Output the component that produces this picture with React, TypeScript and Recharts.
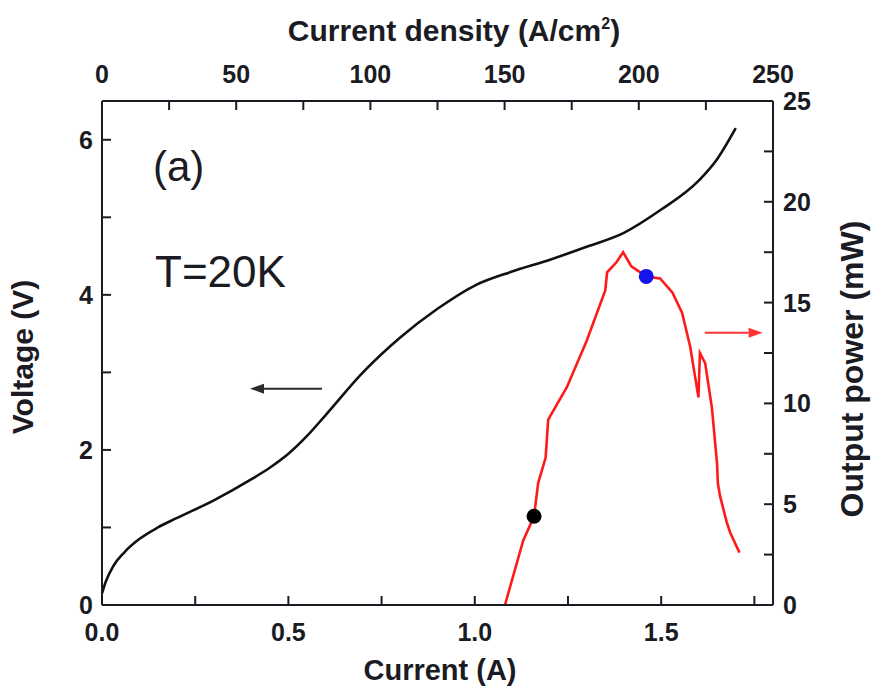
import { ComposedChart, Line, Scatter, XAxis, YAxis, ReferenceLine } from "recharts";

// V-I curve (left axis)
const currentV = [0, 0.01, 0.03, 0.06, 0.1, 0.15, 0.2, 0.3, 0.4, 0.45, 0.5, 0.55, 0.6, 0.7, 0.8, 0.9, 1.0, 1.1, 1.2, 1.3, 1.4, 1.5, 1.6, 1.65, 1.7];
const voltage = [0.15, 0.3, 0.5, 0.68, 0.85, 1.0, 1.12, 1.35, 1.62, 1.77, 1.95, 2.18, 2.45, 3.0, 3.45, 3.82, 4.12, 4.3, 4.45, 4.62, 4.8, 5.1, 5.47, 5.75, 6.15];

// L-I curve (right axis)
const currentP = [1.081, 1.13, 1.159, 1.17, 1.19, 1.197, 1.247, 1.3, 1.35, 1.355, 1.38, 1.398, 1.42, 1.46, 1.497, 1.53, 1.556, 1.578, 1.6, 1.604, 1.618, 1.636, 1.65, 1.652, 1.658, 1.676, 1.685, 1.71];
const power = [0, 3.2, 4.4, 6.05, 7.3, 9.2, 10.8, 13.1, 15.6, 16.5, 17.0, 17.5, 16.8, 16.3, 16.2, 15.5, 14.5, 12.8, 10.3, 12.5, 12.0, 9.8, 7.0, 6.05, 5.4, 4.1, 3.6, 2.6];

// highlighted points on the L-I curve
const blackDot = [{ I: 1.159, P: 4.4 }];
const blueDot = [{ I: 1.46, P: 16.3 }];

const X_MAX = 1.8; // A, equals 250 A/cm2 on the top axis
const currentTicks = [0, 0.25, 0.5, 0.75, 1.0, 1.25, 1.5, 1.75];
const currentLabels = [0, 0.5, 1.0, 1.5];
const densityTicks = [0, 25, 50, 75, 100, 125, 150, 175, 200, 225, 250];
const densityLabels = [0, 50, 100, 150, 200, 250];
const voltageTicks = [0, 1, 2, 3, 4, 5, 6];
const voltageLabels = [0, 2, 4, 6];
const powerTicks = [0, 2.5, 5, 7.5, 10, 12.5, 15, 17.5, 20, 22.5, 25];
const powerLabels = [0, 5, 10, 15, 20, 25];

const vData = currentV.map((I, i) => ({ I, V: voltage[i] }));
const pData = currentP.map((I, i) => ({ I, P: power[i] }));
const toCurrent = (j: number) => (j * X_MAX) / 250;

const FONT = '"Liberation Sans", Arial, Helvetica, sans-serif';
const INK = "#1b1b24";
const TICK = 9;
const has = (arr: number[], v: number) => arr.some((a) => Math.abs(a - v) < 1e-6);
const tickText = { fontFamily: FONT, fontWeight: 700, fontSize: 25, fill: INK };

const BottomTick = ({ x, y, payload }: any) => (
  <g>
    <line x1={x} y1={y} x2={x} y2={y - TICK} stroke={INK} strokeWidth={2} />
    {has(currentLabels, payload.value) && (
      <text x={x} y={y + 36} textAnchor="middle" {...tickText}>
        {payload.value.toFixed(1)}
      </text>
    )}
  </g>
);

const TopTick = ({ x, y, payload }: any) => {
  const j = Math.round((payload.value * 250) / X_MAX);
  return (
    <g>
      <line x1={x} y1={y} x2={x} y2={y + TICK} stroke={INK} strokeWidth={2} />
      {has(densityLabels, j) && (
        <text x={x} y={y - 18} textAnchor="middle" {...tickText}>
          {j}
        </text>
      )}
    </g>
  );
};

const LeftTick = ({ x, y, payload }: any) => (
  <g>
    <line x1={x} y1={y} x2={x + TICK} y2={y} stroke={INK} strokeWidth={2} />
    {has(voltageLabels, payload.value) && (
      <text x={x - 9} y={y + 9} textAnchor="end" {...tickText}>
        {payload.value}
      </text>
    )}
  </g>
);

const RightTick = ({ x, y, payload }: any) => (
  <g>
    <line x1={x} y1={y} x2={x - TICK} y2={y} stroke={INK} strokeWidth={2} />
    {has(powerLabels, payload.value) && (
      <text x={x + 10} y={y + 9} textAnchor="start" {...tickText}>
        {payload.value}
      </text>
    )}
  </g>
);

const arrow = (color: string) => (props: any) => {
  const { x1, y1, x2, y2 } = props;
  const a = Math.atan2(y2 - y1, x2 - x1);
  const hl = 14;
  const hw = 5;
  const bx = x2 - hl * Math.cos(a);
  const by = y2 - hl * Math.sin(a);
  const px = -Math.sin(a) * hw;
  const py = Math.cos(a) * hw;
  return (
    <g>
      <line x1={x1} y1={y1} x2={bx} y2={by} stroke={color} strokeWidth={2} />
      <polygon points={`${x2},${y2} ${bx + px},${by + py} ${bx - px},${by - py}`} fill={color} />
    </g>
  );
};

const dot = (fill: string) => (p: any) => <circle cx={p.cx} cy={p.cy} r={7.5} fill={fill} />;

export default function App() {
  return (
    <div style={{ position: "absolute", left: 0, top: 0, width: 873, height: 689, background: "#fff" }}>
      <ComposedChart width={873} height={689} margin={{ top: 0, right: 0, bottom: 0, left: 0 }}>
        <XAxis
          xAxisId="bottom"
          dataKey="I"
          type="number"
          orientation="bottom"
          domain={[0, X_MAX]}
          ticks={currentTicks}
          interval={0}
          height={84}
          tickSize={0}
          tickMargin={0}
          tickLine={false}
          tick={<BottomTick />}
          axisLine={{ stroke: INK, strokeWidth: 2 }}
        />
        <XAxis
          xAxisId="top"
          dataKey="I"
          type="number"
          orientation="top"
          domain={[0, X_MAX]}
          ticks={densityTicks.map(toCurrent)}
          interval={0}
          height={101}
          tickSize={0}
          tickMargin={0}
          tickLine={false}
          tick={<TopTick />}
          axisLine={{ stroke: INK, strokeWidth: 2 }}
        />
        <YAxis
          yAxisId="V"
          orientation="left"
          type="number"
          domain={[0, 6.5]}
          ticks={voltageTicks}
          interval={0}
          width={102}
          tickSize={0}
          tickMargin={0}
          tickLine={false}
          tick={<LeftTick />}
          axisLine={{ stroke: INK, strokeWidth: 2 }}
        />
        <YAxis
          yAxisId="P"
          orientation="right"
          type="number"
          domain={[0, 25]}
          ticks={powerTicks}
          interval={0}
          width={100}
          tickSize={0}
          tickMargin={0}
          tickLine={false}
          tick={<RightTick />}
          axisLine={{ stroke: INK, strokeWidth: 2 }}
        />
        <Line
          data={vData}
          xAxisId="bottom"
          yAxisId="V"
          dataKey="V"
          type="monotone"
          stroke="#111"
          strokeWidth={2.6}
          dot={false}
          isAnimationActive={false}
        />
        <Line
          data={pData}
          xAxisId="top"
          yAxisId="P"
          dataKey="P"
          type="linear"
          stroke="#ff1a1a"
          strokeWidth={2.6}
          dot={false}
          isAnimationActive={false}
        />
        <Scatter data={blackDot} xAxisId="bottom" yAxisId="P" dataKey="P" shape={dot("#000")} isAnimationActive={false} />
        <Scatter data={blueDot} xAxisId="bottom" yAxisId="P" dataKey="P" shape={dot("#1414ee")} isAnimationActive={false} />
        <ReferenceLine
          xAxisId="bottom"
          yAxisId="V"
          segment={[{ x: 0.59, y: 2.79 }, { x: 0.397, y: 2.79 }]}
          shape={arrow("#2a2a2a")}
        />
        <ReferenceLine
          xAxisId="bottom"
          yAxisId="P"
          segment={[{ x: 1.617, y: 13.5 }, { x: 1.772, y: 13.5 }]}
          shape={arrow("#ff3333")}
        />
      </ComposedChart>
      <svg
        width={873}
        height={689}
        style={{ position: "absolute", left: 0, top: 0, pointerEvents: "none" }}
        fontFamily={FONT}
        fill={INK}
      >
        <text x={454} y={41} textAnchor="middle" fontSize={30} fontWeight={700}>
          Current density (A/cm<tspan dy={-12} fontSize={16}>2</tspan>
          <tspan dy={12}>)</tspan>
        </text>
        <text x={440} y={680} textAnchor="middle" fontSize={29} fontWeight={700}>
          Current (A)
        </text>
        <text transform="translate(33,357) rotate(-90)" textAnchor="middle" fontSize={30} fontWeight={700}>
          Voltage (V)
        </text>
        <text transform="translate(863,369) rotate(-90)" textAnchor="middle" fontSize={32} fontWeight={700}>
          Output power (mW)
        </text>
        <text x={153} y={181} fontSize={42}>
          (a)
        </text>
        <text x={155} y={287} fontSize={44}>
          T=20K
        </text>
      </svg>
    </div>
  );
}
